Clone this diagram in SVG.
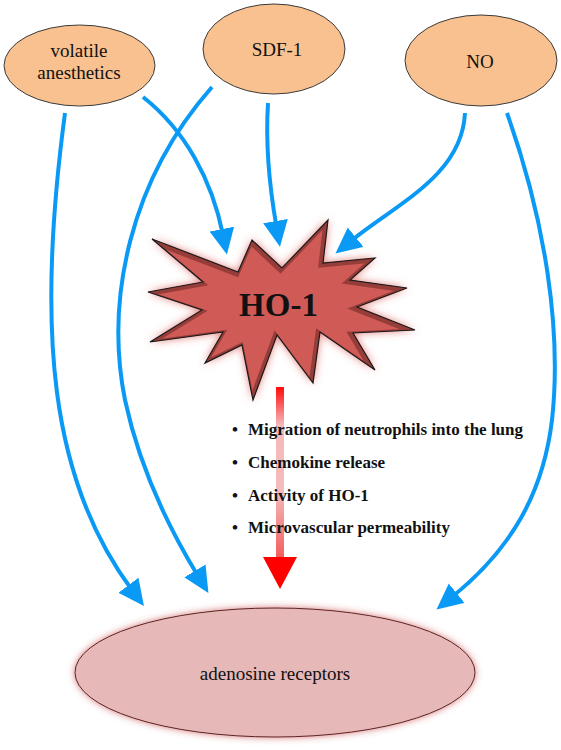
<svg xmlns="http://www.w3.org/2000/svg" width="561" height="750" viewBox="0 0 561 750">
<style>
.src{fill:#f9c18f;stroke:#3a3a3a;stroke-width:1}
.lbl{font-family:"Liberation Serif","Times New Roman",serif;font-size:19px;fill:#111;text-anchor:middle}
.bl{font-family:"Liberation Serif","Times New Roman",serif;font-size:17px;font-weight:bold;fill:#111}
.conn{fill:none;stroke:#0a9af5;stroke-width:4;marker-end:url(#ah)}
</style>
<defs>
<marker id="ah" markerUnits="userSpaceOnUse" markerWidth="27" markerHeight="26" refX="6" refY="12.5" orient="auto" viewBox="0 0 27 26">
<path d="M0,0 L26,12.5 L0,25 Z" fill="#0a9af5"/>
</marker>
<filter id="glow" x="-20%" y="-20%" width="140%" height="140%">
<feGaussianBlur in="SourceAlpha" stdDeviation="4.5" result="b"/>
<feFlood flood-color="#d9534f" flood-opacity="0.8"/>
<feComposite in2="b" operator="in" result="g"/>
<feMerge><feMergeNode in="g"/><feMergeNode in="SourceGraphic"/></feMerge>
</filter>
<filter id="glow2" x="-10%" y="-20%" width="120%" height="140%">
<feGaussianBlur in="SourceAlpha" stdDeviation="3.5" result="b"/>
<feFlood flood-color="#c43c3c" flood-opacity="0.7"/>
<feComposite in2="b" operator="in" result="g"/>
<feMerge><feMergeNode in="g"/><feMergeNode in="SourceGraphic"/></feMerge>
</filter>
<clipPath id="starclip"><polygon points="152,239 238,272 252,240 282,268 328,220 323,263 375,258 350,280 407,288 357,307 415,330 353,333 375,370 320,332 313,383 277,335 253,400 242,345 205,363 223,332 150,342 202,310 148,292 203,282"/></clipPath>
<linearGradient id="redgrad" x1="0" y1="387" x2="0" y2="560" gradientUnits="userSpaceOnUse">
<stop offset="0" stop-color="#ff0a0a"/>
<stop offset="0.22" stop-color="#f6b9b9"/>
<stop offset="0.6" stop-color="#f4bcbc"/>
<stop offset="1" stop-color="#f45a5a"/>
</linearGradient>
</defs>

<g id="adenosine-receptors">
<ellipse cx="275" cy="672.5" rx="200" ry="64.5" fill="#e6b8b7" stroke="#5a2424" stroke-width="1" filter="url(#glow2)"/>
<text class="lbl" x="275" y="680">adenosine receptors</text>
</g>

<g id="volatile-anesthetics">
<ellipse class="src" cx="79.5" cy="65.5" rx="75.5" ry="40.5"/>
<text class="lbl" x="79" y="57">volatile</text>
<text class="lbl" x="79" y="79">anesthetics</text>
</g>

<g id="sdf-1">
<ellipse class="src" cx="274" cy="49" rx="71" ry="45"/>
<text class="lbl" x="277" y="56">SDF-1</text>
</g>

<g id="no">
<ellipse class="src" cx="481" cy="60.5" rx="76" ry="45.5"/>
<text class="lbl" x="480" y="68">NO</text>
</g>

<g id="ho-1">
<g filter="url(#glow)">
<polygon points="152,239 238,272 252,240 282,268 328,220 323,263 375,258 350,280 407,288 357,307 415,330 353,333 375,370 320,332 313,383 277,335 253,400 242,345 205,363 223,332 150,342 202,310 148,292 203,282" fill="#cf5a57"/>
</g>
<g clip-path="url(#starclip)">
<polygon transform="translate(-1.5,1.5)" points="152,239 238,272 252,240 282,268 328,220 323,263 375,258 350,280 407,288 357,307 415,330 353,333 375,370 320,332 313,383 277,335 253,400 242,345 205,363 223,332 150,342 202,310 148,292 203,282" fill="none" stroke="#7e302e" stroke-width="6" stroke-opacity="0.7"/>
</g>
<polygon points="152,239 238,272 252,240 282,268 328,220 323,263 375,258 350,280 407,288 357,307 415,330 353,333 375,370 320,332 313,383 277,335 253,400 242,345 205,363 223,332 150,342 202,310 148,292 203,282" fill="none" stroke="#1a1a1a" stroke-width="1.2"/>
<text x="278.5" y="316" font-family="'Liberation Serif','Times New Roman',serif" font-size="33" font-weight="bold" fill="#111" text-anchor="middle">HO-1</text>
</g>

<g id="connectors">
<path class="conn" d="M65,113 C 36,330 50,480 132,590"/>
<path class="conn" d="M212,87 C 130,180 105,300 125,400 C 140,470 170,530 198,576"/>
<path class="conn" d="M143,97 C 185,130 212,180 223,235"/>
<path class="conn" d="M268,103 C 265,150 270,190 276.5,227"/>
<path class="conn" d="M465,113 C 462,175 398,203 351,241"/>
<path class="conn" d="M507,113 C 545,220 562,330 552,420 C 543,495 510,550 452,597"/>
<rect x="276" y="387" width="8" height="172" fill="url(#redgrad)"/>
<polygon points="263,557 297,557 280,589" fill="#ff0000"/>
</g>

<g id="effects">
<text class="bl" x="232" y="435">•</text><text class="bl" x="248" y="435">Migration of neutrophils into the lung</text>
<text class="bl" x="232" y="468">•</text><text class="bl" x="248" y="468">Chemokine release</text>
<text class="bl" x="232" y="501">•</text><text class="bl" x="248" y="501">Activity of HO-1</text>
<text class="bl" x="232" y="533">•</text><text class="bl" x="248" y="533">Microvascular permeability</text>
</g>
</svg>
